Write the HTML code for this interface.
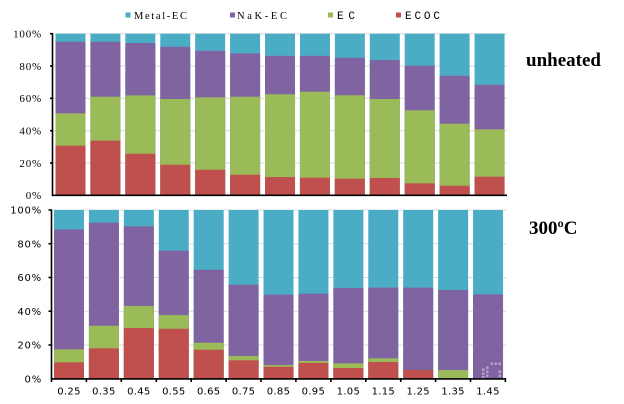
<!DOCTYPE html>
<html><head><meta charset="utf-8"><style>
html,body{margin:0;padding:0;background:#fff;}
svg{display:block;}
</style></head><body>
<svg width="624" height="404" viewBox="0 0 624 404" xmlns="http://www.w3.org/2000/svg">
<rect width="624" height="404" fill="#fff"/>
<!-- legend -->
<rect x="125.5" y="12.5" width="5" height="5" fill="#4BACC6"/>
<text x="134" y="19" font-family="'Liberation Serif', serif" font-size="10.5" textLength="53" lengthAdjust="spacing" fill="#000">Metal-EC</text>
<rect x="230" y="12.5" width="5" height="5" fill="#8064A2"/>
<text x="237" y="19" font-family="'Liberation Serif', serif" font-size="10.5" textLength="50" lengthAdjust="spacing" fill="#000">NaK-EC</text>
<rect x="328" y="12.5" width="5" height="5" fill="#9BBB59"/>
<text x="337" y="19" font-family="'Liberation Mono', monospace" font-size="11" textLength="18" lengthAdjust="spacing" fill="#000">EC</text>
<rect x="396" y="12.5" width="5" height="5" fill="#C0504D"/>
<text x="405" y="19" font-family="'Liberation Mono', monospace" font-size="11" textLength="35" lengthAdjust="spacing" fill="#000">ECOC</text>

<!-- titles -->
<text x="526" y="66" font-family="'Liberation Serif', serif" font-size="19" font-weight="bold" fill="#000">unheated</text>
<text x="529" y="234" font-family="'Liberation Serif', serif" font-size="19" font-weight="bold" fill="#000">300ºC</text>

<!-- top gridlines -->
<g stroke="#D9D9D9" stroke-width="1">
<line x1="53" y1="163" x2="507" y2="163"/>
<line x1="53" y1="130.7" x2="507" y2="130.7"/>
<line x1="53" y1="98.3" x2="507" y2="98.3"/>
<line x1="53" y1="66" x2="507" y2="66"/>
<line x1="53" y1="33.7" x2="507" y2="33.7"/>
</g>
<!-- bottom gridlines -->
<g stroke="#D9D9D9" stroke-width="1">
<line x1="52" y1="345" x2="506" y2="345"/>
<line x1="52" y1="311.2" x2="506" y2="311.2"/>
<line x1="52" y1="277.5" x2="506" y2="277.5"/>
<line x1="52" y1="243.7" x2="506" y2="243.7"/>
<line x1="52" y1="210" x2="506" y2="210"/>
</g>

<!-- top bars -->
<g transform="translate(55.5,195.3) scale(1,-1.616)">
<g transform="translate(0,0)"><rect width="30" height="100" fill="#4BACC6"/><rect width="30" height="95.0" fill="#8064A2"/><rect width="30" height="50.7" fill="#9BBB59"/><rect width="30" height="30.7" fill="#C0504D"/></g>
<g transform="translate(34.92,0)"><rect width="30" height="100" fill="#4BACC6"/><rect width="30" height="95.0" fill="#8064A2"/><rect width="30" height="61.0" fill="#9BBB59"/><rect width="30" height="33.8" fill="#C0504D"/></g>
<g transform="translate(69.84,0)"><rect width="30" height="100" fill="#4BACC6"/><rect width="30" height="94.2" fill="#8064A2"/><rect width="30" height="61.8" fill="#9BBB59"/><rect width="30" height="25.7" fill="#C0504D"/></g>
<g transform="translate(104.76,0)"><rect width="30" height="100" fill="#4BACC6"/><rect width="30" height="91.9" fill="#8064A2"/><rect width="30" height="59.6" fill="#9BBB59"/><rect width="30" height="18.9" fill="#C0504D"/></g>
<g transform="translate(139.68,0)"><rect width="30" height="100" fill="#4BACC6"/><rect width="30" height="89.4" fill="#8064A2"/><rect width="30" height="60.6" fill="#9BBB59"/><rect width="30" height="15.8" fill="#C0504D"/></g>
<g transform="translate(174.6,0)"><rect width="30" height="100" fill="#4BACC6"/><rect width="30" height="87.8" fill="#8064A2"/><rect width="30" height="61.0" fill="#9BBB59"/><rect width="30" height="12.7" fill="#C0504D"/></g>
<g transform="translate(209.52,0)"><rect width="30" height="100" fill="#4BACC6"/><rect width="30" height="86.3" fill="#8064A2"/><rect width="30" height="62.5" fill="#9BBB59"/><rect width="30" height="11.3" fill="#C0504D"/></g>
<g transform="translate(244.44,0)"><rect width="30" height="100" fill="#4BACC6"/><rect width="30" height="86.3" fill="#8064A2"/><rect width="30" height="64.1" fill="#9BBB59"/><rect width="30" height="10.9" fill="#C0504D"/></g>
<g transform="translate(279.36,0)"><rect width="30" height="100" fill="#4BACC6"/><rect width="30" height="85.1" fill="#8064A2"/><rect width="30" height="61.9" fill="#9BBB59"/><rect width="30" height="10.3" fill="#C0504D"/></g>
<g transform="translate(314.28,0)"><rect width="30" height="100" fill="#4BACC6"/><rect width="30" height="83.7" fill="#8064A2"/><rect width="30" height="59.6" fill="#9BBB59"/><rect width="30" height="10.7" fill="#C0504D"/></g>
<g transform="translate(349.2,0)"><rect width="30" height="100" fill="#4BACC6"/><rect width="30" height="80.2" fill="#8064A2"/><rect width="30" height="52.6" fill="#9BBB59"/><rect width="30" height="7.4" fill="#C0504D"/></g>
<g transform="translate(384.12,0)"><rect width="30" height="100" fill="#4BACC6"/><rect width="30" height="74.0" fill="#8064A2"/><rect width="30" height="44.3" fill="#9BBB59"/><rect width="30" height="5.9" fill="#C0504D"/></g>
<g transform="translate(419.04,0)"><rect width="30" height="100" fill="#4BACC6"/><rect width="30" height="68.4" fill="#8064A2"/><rect width="30" height="40.8" fill="#9BBB59"/><rect width="30" height="11.5" fill="#C0504D"/></g>
</g>

<!-- bottom bars -->
<g transform="translate(54,378.7) scale(1,-1.687)">
<g transform="translate(0,0)"><rect width="30" height="100" fill="#4BACC6"/><rect width="30" height="88.5" fill="#8064A2"/><rect width="30" height="17.4" fill="#9BBB59"/><rect width="30" height="9.7" fill="#C0504D"/></g>
<g transform="translate(34.92,0)"><rect width="30" height="100" fill="#4BACC6"/><rect width="30" height="92.5" fill="#8064A2"/><rect width="30" height="31.4" fill="#9BBB59"/><rect width="30" height="18.0" fill="#C0504D"/></g>
<g transform="translate(69.84,0)"><rect width="30" height="100" fill="#4BACC6"/><rect width="30" height="90.3" fill="#8064A2"/><rect width="30" height="43.1" fill="#9BBB59"/><rect width="30" height="30.0" fill="#C0504D"/></g>
<g transform="translate(104.76,0)"><rect width="30" height="100" fill="#4BACC6"/><rect width="30" height="75.9" fill="#8064A2"/><rect width="30" height="37.7" fill="#9BBB59"/><rect width="30" height="29.6" fill="#C0504D"/></g>
<g transform="translate(139.68,0)"><rect width="30" height="100" fill="#4BACC6"/><rect width="30" height="64.6" fill="#8064A2"/><rect width="30" height="21.3" fill="#9BBB59"/><rect width="30" height="17.2" fill="#C0504D"/></g>
<g transform="translate(174.6,0)"><rect width="30" height="100" fill="#4BACC6"/><rect width="30" height="55.7" fill="#8064A2"/><rect width="30" height="13.4" fill="#9BBB59"/><rect width="30" height="10.9" fill="#C0504D"/></g>
<g transform="translate(209.52,0)"><rect width="30" height="100" fill="#4BACC6"/><rect width="30" height="49.8" fill="#8064A2"/><rect width="30" height="8.1" fill="#9BBB59"/><rect width="30" height="7.1" fill="#C0504D"/></g>
<g transform="translate(244.44,0)"><rect width="30" height="100" fill="#4BACC6"/><rect width="30" height="50.4" fill="#8064A2"/><rect width="30" height="10.5" fill="#9BBB59"/><rect width="30" height="9.4" fill="#C0504D"/></g>
<g transform="translate(279.36,0)"><rect width="30" height="100" fill="#4BACC6"/><rect width="30" height="53.8" fill="#8064A2"/><rect width="30" height="9.1" fill="#9BBB59"/><rect width="30" height="6.3" fill="#C0504D"/></g>
<g transform="translate(314.28,0)"><rect width="30" height="100" fill="#4BACC6"/><rect width="30" height="54.0" fill="#8064A2"/><rect width="30" height="12.1" fill="#9BBB59"/><rect width="30" height="9.9" fill="#C0504D"/></g>
<g transform="translate(349.2,0)"><rect width="30" height="100" fill="#4BACC6"/><rect width="30" height="54.0" fill="#8064A2"/><rect width="30" height="5.1" fill="#C0504D"/></g>
<g transform="translate(384.12,0)"><rect width="30" height="100" fill="#4BACC6"/><rect width="30" height="52.6" fill="#8064A2"/><rect width="30" height="5.1" fill="#9BBB59"/></g>
<g transform="translate(419.04,0)"><rect width="30" height="100" fill="#4BACC6"/><rect width="30" height="50.0" fill="#8064A2"/></g>
</g>

<!-- watermark squares -->
<g fill="#B3A3C9">
<rect x="490.5" y="362.5" width="2.5" height="2.5"/><rect x="494.5" y="362.5" width="2.5" height="2.5"/><rect x="498.5" y="362.5" width="2.5" height="2.5"/>
<rect x="486" y="366.5" width="2.5" height="2.5"/><rect x="482" y="368.5" width="2.5" height="2.5"/><rect x="486" y="370.5" width="2.5" height="2.5"/>
<rect x="482" y="372.5" width="2.5" height="2.5"/><rect x="498.5" y="370.5" width="2.5" height="2.5"/><rect x="498.5" y="374.5" width="2.5" height="2.5"/>
<rect x="486" y="374.5" width="2.5" height="2.5"/><rect x="482" y="376" width="2.5" height="2"/>
</g>

<!-- top axes -->
<g stroke="#000" stroke-width="1.6" fill="none">
<line x1="52.5" y1="33.7" x2="52.5" y2="196"/>
<line x1="52" y1="195.3" x2="507" y2="195.3"/>
<line x1="50" y1="33.7" x2="53" y2="33.7"/>
<line x1="50" y1="66" x2="53" y2="66"/>
<line x1="50" y1="98.3" x2="53" y2="98.3"/>
<line x1="50" y1="130.7" x2="53" y2="130.7"/>
<line x1="50" y1="163" x2="53" y2="163"/>
</g>
<!-- bottom axes -->
<g stroke="#000" stroke-width="1.6" fill="none">
<line x1="51.5" y1="210" x2="51.5" y2="379.5"/>
<line x1="51" y1="378.9" x2="506" y2="378.9"/>
<line x1="48.5" y1="210" x2="52" y2="210"/>
<line x1="48.5" y1="243.7" x2="52" y2="243.7"/>
<line x1="48.5" y1="277.5" x2="52" y2="277.5"/>
<line x1="48.5" y1="311.2" x2="52" y2="311.2"/>
<line x1="48.5" y1="345" x2="52" y2="345"/>
<line x1="51.5" y1="378" x2="51.5" y2="382"/>
<line x1="86.4" y1="378" x2="86.4" y2="382"/>
<line x1="121.3" y1="378" x2="121.3" y2="382"/>
<line x1="156.3" y1="378" x2="156.3" y2="382"/>
<line x1="191.2" y1="378" x2="191.2" y2="382"/>
<line x1="226.1" y1="378" x2="226.1" y2="382"/>
<line x1="261" y1="378" x2="261" y2="382"/>
<line x1="295.9" y1="378" x2="295.9" y2="382"/>
<line x1="330.9" y1="378" x2="330.9" y2="382"/>
<line x1="365.8" y1="378" x2="365.8" y2="382"/>
<line x1="400.7" y1="378" x2="400.7" y2="382"/>
<line x1="435.6" y1="378" x2="435.6" y2="382"/>
<line x1="470.5" y1="378" x2="470.5" y2="382"/>
<line x1="505.4" y1="378" x2="505.4" y2="382"/>
</g>

<!-- top y labels -->
<g font-family="'Liberation Serif', serif" font-size="11" letter-spacing="0.8" text-anchor="end" fill="#000">
<text x="42" y="37.5">100%</text>
<text x="42" y="69.8">80%</text>
<text x="42" y="102.1">60%</text>
<text x="42" y="134.5">40%</text>
<text x="42" y="166.8">20%</text>
<text x="42" y="199">0%</text>
</g>
<!-- bottom y labels -->
<g font-family="'DejaVu Sans', sans-serif" font-size="10" letter-spacing="0.8" text-anchor="end" fill="#000">
<text x="42" y="213.7">100%</text>
<text x="42" y="247.4">80%</text>
<text x="42" y="281.2">60%</text>
<text x="42" y="314.9">40%</text>
<text x="42" y="348.7">20%</text>
<text x="42" y="382.4">0%</text>
</g>
<!-- x labels -->
<g font-family="'DejaVu Sans', sans-serif" font-size="10" letter-spacing="0.3" text-anchor="middle" fill="#000">
<text x="69" y="394.5">0.25</text>
<text x="103.9" y="394.5">0.35</text>
<text x="138.8" y="394.5">0.45</text>
<text x="173.8" y="394.5">0.55</text>
<text x="208.7" y="394.5">0.65</text>
<text x="243.6" y="394.5">0.75</text>
<text x="278.5" y="394.5">0.85</text>
<text x="313.4" y="394.5">0.95</text>
<text x="348.4" y="394.5">1.05</text>
<text x="383.3" y="394.5">1.15</text>
<text x="418.2" y="394.5">1.25</text>
<text x="453.1" y="394.5">1.35</text>
<text x="488" y="394.5">1.45</text>
</g>
</svg>
</body></html>
